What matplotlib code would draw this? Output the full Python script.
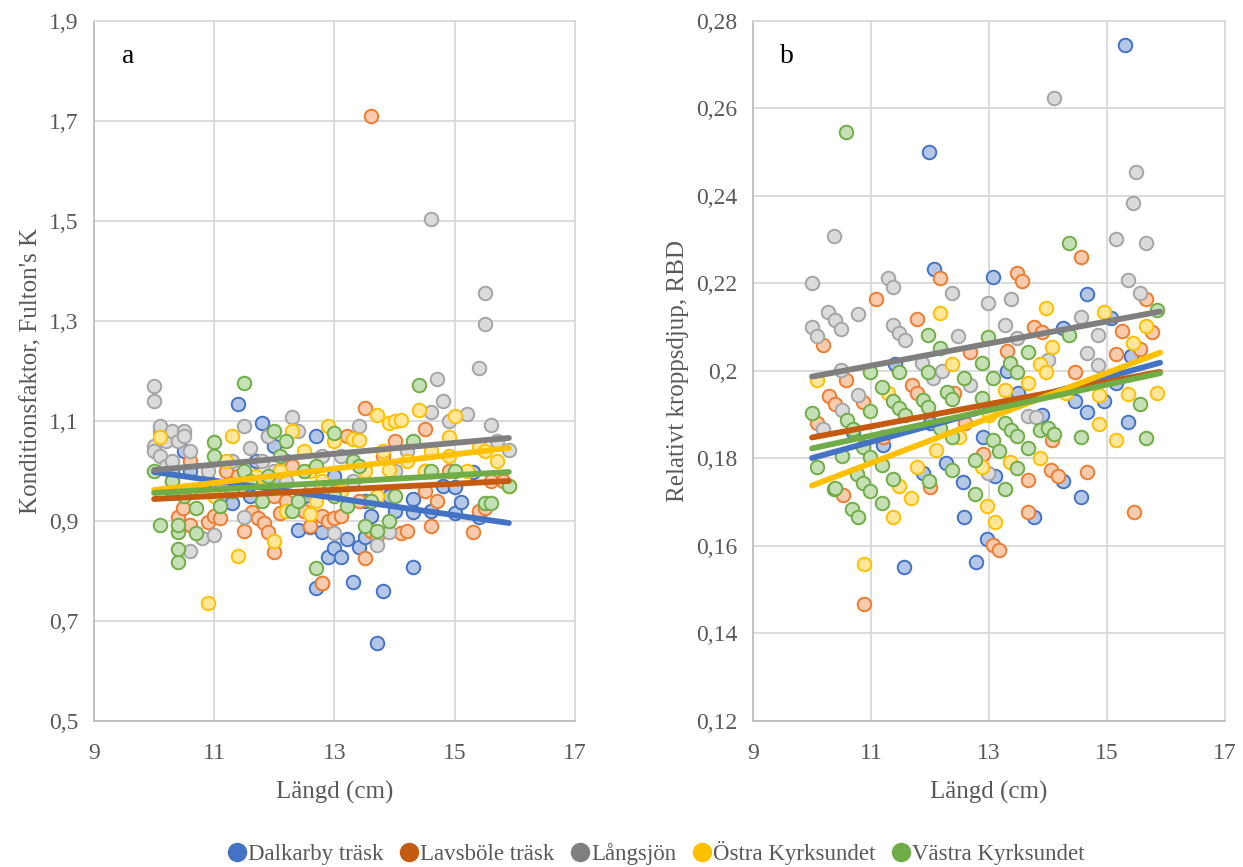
import matplotlib
matplotlib.use("Agg")
import matplotlib.pyplot as plt
from matplotlib.lines import Line2D

plt.rcParams["font.family"] = ["Liberation Serif", "DejaVu Serif"]

LAKES = ["Dalkarby träsk", "Lavsböle träsk", "Långsjön", "Östra Kyrksundet", "Västra Kyrksundet"]
EDGE = ["#4472C4", "#ED7D31", "#A5A5A5", "#FFC000", "#70AD47"]
FILL = ["#B4C7E7", "#F8CBAD", "#DBDBDB", "#FFE699", "#C5E0B4"]
LINE = ["#4472C4", "#C55A11", "#7F7F7F", "#FFC000", "#70AD47"]

# panel a: längd (cm) vs Fulton's K
A_DAL = [(10.3, 1.00), (10.5, 1.04), (10.6, 1.00), (10.9, 0.98), (11.0, 0.96), (11.2, 0.94), (11.3, 0.936),
         (11.4, 1.134), (11.5, 0.99), (11.6, 0.95), (11.7, 1.02), (11.8, 1.096), (11.9, 1.07), (12.0, 1.05),
         (12.1, 0.98), (12.2, 1.02), (12.3, 0.93), (12.4, 0.882), (12.5, 0.95), (12.6, 0.888), (12.7, 0.766),
         (12.7, 1.07), (12.8, 0.776), (12.8, 0.878), (12.9, 0.828), (12.9, 0.96), (13.0, 0.846), (13.0, 0.99),
         (13.1, 0.828), (13.2, 0.864), (13.3, 0.778), (13.4, 0.848), (13.5, 0.868), (13.5, 0.94), (13.6, 0.91),
         (13.7, 0.656), (13.8, 0.76), (13.9, 0.95), (14.0, 0.92), (14.3, 0.944), (14.3, 0.808), (14.3, 0.918),
         (14.6, 0.92), (14.8, 0.97), (15.0, 0.968), (15.0, 0.915), (15.1, 0.938), (15.3, 0.998), (15.4, 0.908)]
A_LAV = [(10.3, 0.96), (10.4, 0.908), (10.48, 0.926), (10.6, 0.892), (10.6, 1.02), (10.8, 0.96), (10.9, 0.898),
         (11.0, 0.91), (11.1, 0.906), (11.2, 1.00), (11.3, 0.96), (11.4, 0.99), (11.5, 0.88), (11.63, 0.918),
         (11.72, 0.906), (11.82, 0.896), (11.9, 0.878), (12.0, 0.838), (12.0, 0.95), (12.1, 0.916), (12.2, 0.94),
         (12.3, 1.01), (12.5, 0.92), (12.6, 0.89), (12.8, 0.775), (12.8, 0.91), (12.9, 0.90), (13.0, 0.96),
         (13.0, 0.905), (13.1, 0.91), (13.2, 1.07), (13.4, 0.94), (13.5, 1.125), (13.5, 0.826), (13.6, 1.71),
         (13.6, 0.88), (13.7, 0.87), (13.8, 1.03), (14.0, 1.06), (14.1, 0.875), (14.2, 0.88), (14.5, 0.96),
         (14.5, 1.084), (14.6, 0.89), (14.7, 0.94), (14.9, 1.00), (15.3, 0.878), (15.4, 0.92), (15.5, 0.925),
         (15.6, 0.98), (15.8, 0.98)]
A_LANG = [(10.0, 1.17), (10.0, 1.14), (10.0, 1.05), (10.0, 1.04), (10.1, 1.08), (10.1, 1.09), (10.1, 1.03),
          (10.2, 1.06), (10.2, 1.01), (10.3, 1.08), (10.3, 1.02), (10.4, 1.06), (10.5, 1.08), (10.5, 1.07),
          (10.6, 1.04), (10.6, 0.84), (10.8, 0.866), (11.0, 0.872), (10.9, 1.00), (11.1, 0.96), (11.3, 1.02),
          (11.5, 1.09), (11.5, 0.908), (11.6, 1.045), (11.8, 1.02), (11.9, 1.07), (12.0, 1.00), (12.2, 0.98),
          (12.3, 1.108), (12.4, 1.08), (12.6, 0.96), (12.8, 1.03), (13.0, 0.876), (13.1, 1.03), (13.3, 0.98),
          (13.4, 1.09), (13.7, 0.852), (13.9, 0.878), (14.0, 1.00), (14.2, 1.04), (14.5, 1.00), (14.6, 1.504),
          (14.6, 1.118), (14.7, 1.184), (14.8, 1.14), (14.9, 1.10), (15.2, 1.114), (15.4, 1.205), (15.5, 1.356),
          (15.5, 1.294), (15.6, 1.092), (15.7, 1.06), (15.9, 1.042)]
A_OST = [(10.1, 1.068), (10.3, 0.98), (10.5, 0.96), (10.9, 0.735), (11.0, 0.95), (11.2, 1.02), (11.3, 1.07),
         (11.4, 0.83), (11.5, 0.98), (11.7, 0.99), (11.9, 0.97), (12.0, 0.86), (12.1, 1.00), (12.2, 0.92),
         (12.3, 1.08), (12.5, 1.04), (12.6, 0.914), (12.6, 1.00), (12.7, 0.94), (12.8, 0.98), (12.9, 1.09),
         (13.0, 1.06), (13.1, 0.96), (13.3, 1.064), (13.4, 1.062), (13.5, 1.00), (13.7, 1.112), (13.7, 0.95),
         (13.8, 1.04), (13.9, 1.096), (13.9, 1.002), (14.0, 1.10), (14.1, 1.102), (14.2, 1.02), (14.4, 1.122),
         (14.5, 1.00), (14.6, 1.04), (14.9, 1.068), (14.9, 1.03), (15.0, 1.11), (15.2, 1.00), (15.4, 1.05),
         (15.5, 1.04), (15.7, 1.02), (15.9, 0.97)]
A_VAS = [(10.0, 1.00), (10.1, 0.892), (10.3, 0.98), (10.4, 0.818), (10.4, 0.844), (10.4, 0.878), (10.4, 0.892),
         (10.5, 0.95), (10.7, 0.925), (10.7, 0.876), (11.0, 1.058), (11.0, 1.03), (11.1, 0.93), (11.3, 0.96),
         (11.5, 1.176), (11.5, 1.00), (11.6, 0.98), (11.8, 0.94), (11.9, 0.99), (12.0, 1.08), (12.1, 1.03),
         (12.2, 1.06), (12.3, 0.92), (12.4, 0.94), (12.5, 1.00), (12.7, 0.806), (12.7, 1.01), (12.9, 0.96),
         (13.0, 1.075), (13.0, 0.95), (13.2, 0.93), (13.3, 1.02), (13.4, 1.01), (13.5, 0.89), (13.6, 0.94),
         (13.7, 0.88), (13.9, 0.90), (14.0, 0.95), (14.3, 1.06), (14.4, 1.172), (14.6, 1.00), (15.0, 1.00),
         (15.5, 0.935), (15.6, 0.935), (15.9, 0.97)]

# panel b: längd (cm) vs relativt kroppsdjup
B_DAL = [(10.7, 0.186), (11.2, 0.183), (11.4, 0.2015), (11.56, 0.1552), (11.88, 0.1767), (11.98, 0.2501),
         (12.0, 0.188), (12.07, 0.2233), (12.27, 0.179), (12.56, 0.1747), (12.58, 0.1666), (12.78, 0.1563),
         (12.9, 0.185), (12.97, 0.1616), (13.07, 0.2215), (13.1, 0.176), (13.3, 0.200), (13.5, 0.195),
         (13.76, 0.1666), (13.9, 0.190), (14.25, 0.2098), (14.25, 0.1749), (14.46, 0.1931), (14.56, 0.1712),
         (14.66, 0.2176), (14.66, 0.1906), (14.95, 0.1931), (15.07, 0.2121), (15.15, 0.1973), (15.3, 0.2745),
         (15.36, 0.1883), (15.4, 0.2035)]
B_LAV = [(10.08, 0.1881), (10.19, 0.2059), (10.29, 0.1943), (10.39, 0.1925), (10.53, 0.1716), (10.58, 0.198),
         (10.86, 0.1929), (10.88, 0.1467), (11.08, 0.2164), (11.2, 0.185), (11.69, 0.1968), (11.78, 0.2119),
         (11.78, 0.1949), (12.0, 0.1735), (12.17, 0.2213), (12.4, 0.195), (12.6, 0.188), (12.68, 0.2043),
         (12.9, 0.181), (13.07, 0.1602), (13.17, 0.1591), (13.3, 0.2045), (13.47, 0.2223), (13.56, 0.2206),
         (13.66, 0.1751), (13.66, 0.1678), (13.76, 0.2101), (13.9, 0.209), (14.05, 0.1774), (14.07, 0.1842),
         (14.17, 0.176), (14.46, 0.1998), (14.56, 0.226), (14.66, 0.1768), (15.15, 0.2039), (15.25, 0.2091),
         (15.46, 0.1677), (15.56, 0.205), (15.66, 0.2164), (15.76, 0.2089)]
B_LANG = [(10.0, 0.220), (10.0, 0.210), (10.08, 0.208), (10.19, 0.1867), (10.27, 0.2135), (10.37, 0.2309),
          (10.39, 0.2117), (10.49, 0.2096), (10.49, 0.2002), (10.5, 0.191), (10.78, 0.213), (10.78, 0.1945),
          (11.29, 0.2212), (11.38, 0.2193), (11.38, 0.2105), (11.48, 0.2087), (11.58, 0.207), (11.86, 0.2018),
          (12.05, 0.1984), (12.2, 0.200), (12.37, 0.2178), (12.47, 0.208), (12.68, 0.1968), (12.98, 0.2155),
          (12.98, 0.1767), (13.27, 0.2105), (13.37, 0.2165), (13.47, 0.2075), (13.66, 0.1897), (13.8, 0.1895),
          (14.0, 0.2025), (14.1, 0.2625), (14.56, 0.2124), (14.66, 0.2041), (14.85, 0.2082), (14.85, 0.2014),
          (15.15, 0.2302), (15.36, 0.2208), (15.44, 0.2385), (15.5, 0.2455), (15.56, 0.2179), (15.66, 0.2293)]
B_OST = [(10.08, 0.198), (10.88, 0.1559), (11.29, 0.195), (11.38, 0.1666), (11.48, 0.1737), (11.68, 0.171),
         (11.78, 0.178), (12.1, 0.182), (12.17, 0.2132), (12.37, 0.2016), (12.5, 0.185), (12.88, 0.1781),
         (12.97, 0.1692), (13.0, 0.190), (13.1, 0.1655), (13.27, 0.1957), (13.36, 0.1792), (13.66, 0.1973),
         (13.86, 0.2016), (13.86, 0.180), (13.96, 0.2144), (13.96, 0.1998), (14.07, 0.2055), (14.3, 0.195),
         (14.86, 0.1945), (14.86, 0.1879), (14.95, 0.2135), (15.15, 0.1842), (15.36, 0.1948), (15.44, 0.2064),
         (15.66, 0.2103), (15.85, 0.1949)]
B_VAS = [(10.0, 0.1904), (10.08, 0.1781), (10.37, 0.173), (10.39, 0.1733), (10.5, 0.1805), (10.58, 0.2546),
         (10.6, 0.1888), (10.68, 0.1685), (10.7, 0.1867), (10.76, 0.1765), (10.78, 0.1666), (10.86, 0.1826),
         (10.86, 0.1744), (10.98, 0.1998), (10.98, 0.1908), (10.98, 0.1803), (10.98, 0.1726), (11.18, 0.1963),
         (11.18, 0.1785), (11.18, 0.1698), (11.38, 0.1931), (11.38, 0.1754), (11.48, 0.1998), (11.48, 0.1916),
         (11.58, 0.190), (11.88, 0.1934), (11.97, 0.2082), (11.97, 0.1998), (11.97, 0.1918), (11.98, 0.1749),
         (12.17, 0.2052), (12.17, 0.187), (12.28, 0.1952), (12.37, 0.1936), (12.37, 0.185), (12.37, 0.1774),
         (12.58, 0.1984), (12.76, 0.1797), (12.76, 0.1719), (12.88, 0.2018), (12.88, 0.1938), (12.98, 0.2078),
         (13.07, 0.1984), (13.07, 0.1842), (13.17, 0.1817), (13.27, 0.1881), (13.27, 0.173), (13.36, 0.2018),
         (13.37, 0.1865), (13.47, 0.1998), (13.47, 0.1851), (13.47, 0.1778), (13.66, 0.2043), (13.66, 0.1824),
         (13.86, 0.1865), (14.0, 0.187), (14.1, 0.1855), (14.36, 0.2293), (14.36, 0.2082), (14.56, 0.185),
         (15.56, 0.1924), (15.66, 0.1847), (15.85, 0.214)]

# linjära trendlinjer, avlästa ändpunkter
TREND_X = [10.0, 15.9]
A_TREND = [(0.998, 0.896), (0.944, 0.980), (1.002, 1.066), (0.962, 1.046), (0.956, 0.998)]
B_TREND = [(0.1801, 0.2019), (0.1848, 0.1998), (0.1987, 0.2136), (0.1738, 0.2042), (0.1823, 0.1995)]

A_YTICKS = [0.5, 0.7, 0.9, 1.1, 1.3, 1.5, 1.7, 1.9]
B_YTICKS = [0.12, 0.14, 0.16, 0.18, 0.20, 0.22, 0.24, 0.26, 0.28]
XTICKS = [9, 11, 13, 15, 17]

GRID = "#D9D9D9"
TXT = "#595959"


def sv(v):
    s = f"{v:.2f}".rstrip("0").rstrip(".")
    return s.replace(".", ",")


def panel(ax, series, trends, yticks, ylabel, letter):
    for pts, ec, fc in zip(series, EDGE, FILL):
        ax.scatter([p[0] for p in pts], [p[1] for p in pts], s=95, facecolor=fc, edgecolor=ec,
                   linewidth=1.4, zorder=3)
    for (y0, y1), c in zip(trends, LINE):
        ax.plot(TREND_X, [y0, y1], color=c, lw=4.2, solid_capstyle="round", zorder=4)
    ax.set_xlim(9, 17)
    ax.set_ylim(yticks[0], yticks[-1])
    ax.set_xticks(XTICKS)
    ax.set_yticks(yticks)
    ax.set_yticklabels([sv(v) for v in yticks])
    ax.grid(True, color=GRID, lw=1.3, zorder=0)
    ax.set_axisbelow(True)
    for sp in ax.spines.values():
        sp.set_color(GRID)
        sp.set_linewidth(1.3)
    ax.spines["left"].set_color("#BFBFBF")
    ax.spines["bottom"].set_color("#BFBFBF")
    ax.tick_params(axis="x", length=0, labelsize=17, labelcolor=TXT, pad=16)
    ax.tick_params(axis="y", length=0, labelsize=17, labelcolor=TXT, pad=11)
    ax.set_xlabel("Längd (cm)", fontsize=18, color=TXT, labelpad=12)
    ax.set_ylabel(ylabel, fontsize=18, color=TXT, labelpad=5)
    ax.text(0.058, 0.949, letter, transform=ax.transAxes, fontsize=20, color="black", va="center")


fig = plt.figure(figsize=(12.43, 8.67), dpi=100)
ax_a = fig.add_axes([0.0756, 0.1684, 0.387, 0.8074])
ax_b = fig.add_axes([0.6058, 0.1684, 0.3797, 0.8074])

panel(ax_a, [A_DAL, A_LAV, A_LANG, A_OST, A_VAS], A_TREND, A_YTICKS, "Konditionsfaktor, Fulton's K", "a")
panel(ax_b, [B_DAL, B_LAV, B_LANG, B_OST, B_VAS], B_TREND, B_YTICKS, "Relativt kroppsdjup, RBD", "b")

handles = [Line2D([], [], ls="", marker="o", ms=13, color=c) for c in LINE]
fig.legend(handles, LAKES, loc="center", bbox_to_anchor=(0.527, 0.016), ncol=5, frameon=False,
           fontsize=16.5, labelcolor=TXT, handletextpad=0.0, columnspacing=0.6, handlelength=1.0)

fig.savefig("out.png", dpi=100)
